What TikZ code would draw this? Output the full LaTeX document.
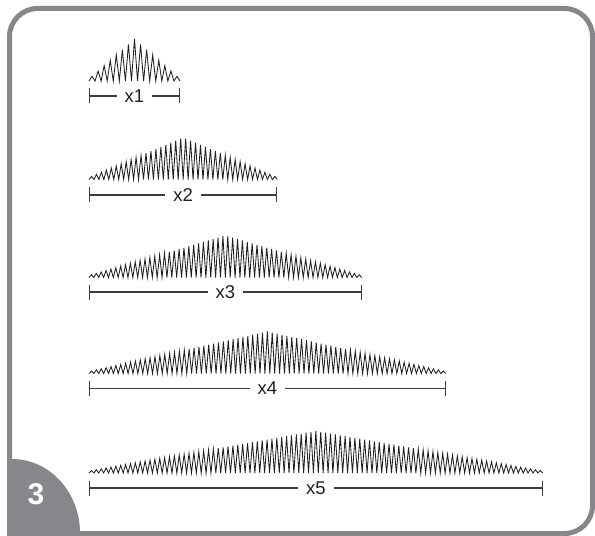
\documentclass[tikz,border=0pt]{standalone}
\usepackage{fontspec}
\setmainfont{Liberation Sans}
\usetikzlibrary{arrows.meta,calc}
\definecolor{framegray}{RGB}{134,135,138}
\definecolor{inkdark}{RGB}{35,31,32}
\definecolor{bargray}{RGB}{60,60,62}
\tikzset{
  wave/.style={draw=inkdark, line width=0.85bp, line join=miter},
  scalebar/.style={draw=bargray, line width=1.2bp, {Bar[width=15bp,line width=1.2bp]}-{Bar[width=15bp,line width=1.2bp]}},
  lbl/.style={fill=white, text=inkdark, inner xsep=8bp, inner ysep=1bp, font=\fontsize{18.5bp}{18.5bp}\selectfont},
  frame/.style={draw=framegray, line width=5bp, rounded corners=28bp},
  badge/.style={fill=framegray},
  badgenum/.style={text=white, font=\fontsize{30bp}{30bp}\selectfont\bfseries, inner sep=0pt}
}
\newcommand\wavebar[6]{% x0, x1, baseline, bar y, label, period
  \pgfmathsetmacro\WL{#2-#1}
  \pgfmathtruncatemacro\WN{2*round(\WL/#6)}
  \pgfmathsetmacro\WH{\WL/\WN}
  \pgfmathsetmacro\WC{(#1+#2)/2}
  \draw[wave] (#1,#3) \foreach \k [evaluate=\k as \xx using {#1+\k*\WH}, evaluate=\k as \yy using {#3-(\k-2*floor(\k/2))*(2+40*(1-abs(#1+\k*\WH-\WC)/(\WL/2)))}] in {1,...,\WN} { -- (\xx,\yy) };
  \coordinate (#5a) at (#1,#4);
  \coordinate (#5b) at (#2,#4);
  \draw[scalebar] (#5a) -- (#5b);
  \node[lbl] (#5) at ($(#5a)!0.5!(#5b)$) {#5};
}
\begin{document}
\begin{tikzpicture}[x=1bp,y=-1bp]
\useasboundingbox (0,0) rectangle (595,536);
\draw[frame] (9.5,8.5) rectangle (592.5,533.5);
\fill[badge] (7,459) -- (12,459) arc[start angle=-90, end angle=0, x radius=68, y radius=74] -- (80,536) -- (7,536) -- cycle;
\node[badgenum] (num) at (36,494) {3};
\wavebar{89}{180}{81}{96}{x1}{6.1}
\wavebar{89}{277.3}{179.5}{195}{x2}{4.9}
\wavebar{89}{361.7}{277.5}{292}{x3}{4.9}
\wavebar{89}{445.7}{373.5}{388.5}{x4}{4.9}
\wavebar{89}{542.7}{473}{488}{x5}{4.9}
\end{tikzpicture}
\end{document}
